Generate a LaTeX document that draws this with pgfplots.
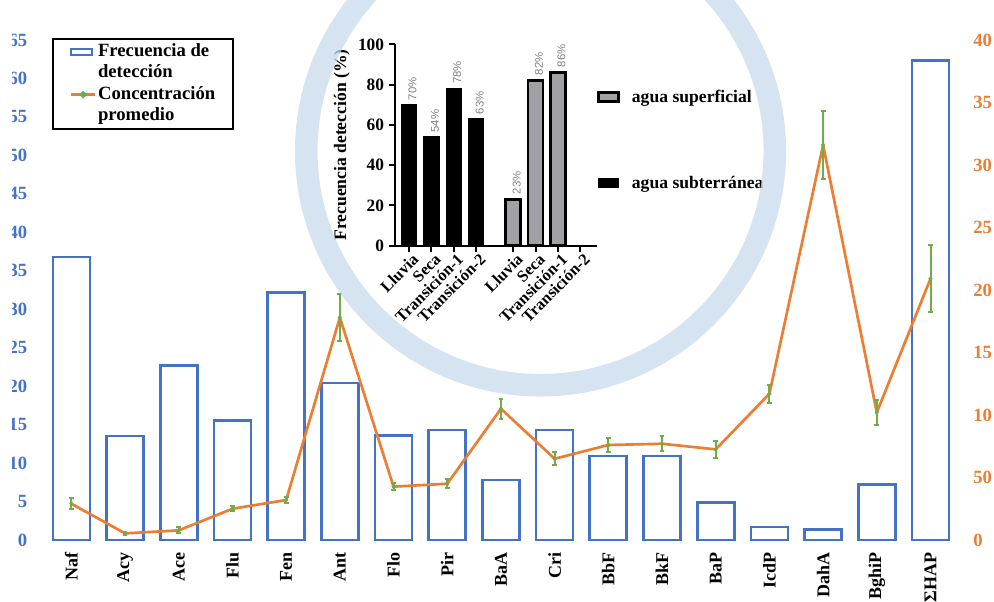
\documentclass[border=0pt]{standalone}
\usepackage{fontspec}
\setmainfont{Liberation Serif}
\newfontfamily\pctfont{Liberation Sans}
\usepackage{pgfplots}
\usepackage{pgfplotstable}
\pgfplotsset{compat=1.18}

\definecolor{cblue}{HTML}{4472C4}
\definecolor{corange}{HTML}{ED7D31}
\definecolor{cgreen}{HTML}{70AD47}
\definecolor{cring}{RGB}{200,218,236}
\definecolor{cgray}{RGB}{160,160,165}
\definecolor{cpct}{RGB}{128,128,128}

\pgfplotstableread{
x f c e
0 36.8 2.9 0.42
1 13.5 0.53 0.1
2 22.7 0.77 0.24
3 15.5 2.5 0.2
4 32.2 3.2 0.25
5 20.4 17.8 1.85
6 13.6 4.27 0.3
7 14.3 4.5 0.35
8 7.8 10.5 0.8
9 14.3 6.5 0.53
10 10.9 7.6 0.53
11 10.9 7.7 0.6
12 4.85 7.25 0.67
13 1.7 11.7 0.73
14 1.4 31.6 2.7
15 7.2 10.2 1.03
16 62.3 20.9 2.7
}\maindata

\pgfplotstableread{
x y
0 70
1 54
2 78
3 63
}\subdata

\pgfplotstableread{
x y
4.65 23
5.65 82
6.65 86
}\supdata

\begin{document}
\begin{tikzpicture}
\useasboundingbox (0,0) rectangle (745.5pt,451.5pt);
\clip (0,0) rectangle (745.5pt,451.5pt);

% main axis: detection frequency (bars)
\begin{axis}[
  at={(33.4pt,46.5pt)}, anchor=south west, scale only axis,
  width=684.6pt, height=375pt,
  xmin=-0.5, xmax=16.5, ymin=0, ymax=65,
  axis line style={draw=none}, major tick length=0pt, tick style={draw=none},
  xtick={0,...,16},
  xticklabels={Naf,Acy,Ace,Flu,Fen,Ant,Flo,Pir,BaA,Cri,BbF,BkF,BaP,IcdP,DahA,BghiP,ΣHAP},
  xticklabel style={rotate=90, anchor=east, inner sep=0pt, font=\bfseries\fontsize{13.5}{16}\selectfont},
  xticklabel shift=9pt,
  ytick={0,5,...,65},
  yticklabel style={anchor=east, inner sep=0pt, text=cblue, font=\bfseries\fontsize{14}{16}\selectfont, xshift=-12.75pt},
  /pgf/number format/assume math mode=true,
  legend style={at={(0.0079,1.0034)}, anchor=north west, draw=black, line width=1.5pt, fill=white,
    inner xsep=13pt, inner ysep=1.5pt, font=\bfseries\fontsize{14}{16}\selectfont,
    nodes={inner sep=0pt, text height=11.5pt, text depth=4.5pt}, cells={anchor=base west},
    row sep=0pt,
    /tikz/every odd column/.style={column sep=1.5pt}},
  clip=false,
]
\addplot[ybar, bar width=27.75pt, draw=cblue, fill=white, line width=2pt,
  legend image code/.code={\draw[cblue, line width=1.5pt, fill=white] (0pt,1.2pt) rectangle (15.75pt,5.8pt);}]
  table[x=x, y=f]{\maindata};
\addlegendentry{Frecuencia de}
\addlegendimage{empty legend}
\addlegendentry{detección}
\addlegendimage{legend image code/.code={\draw[corange, line width=2pt] (0pt,3.5pt) -- (17.5pt,3.5pt);
  \fill[cgreen] (8.75pt,5.4pt) -- (10.6pt,3.5pt) -- (8.75pt,1.6pt) -- (6.9pt,3.5pt) -- cycle;}}
\addlegendentry{Concentración}
\addlegendimage{empty legend}
\addlegendentry{promedio}
\end{axis}

% secondary axis: mean concentration (line)
\begin{axis}[
  at={(33.4pt,46.5pt)}, anchor=south west, scale only axis,
  width=684.6pt, height=375pt,
  xmin=-0.5, xmax=16.5, ymin=0, ymax=40,
  axis x line=none, axis y line*=right,
  axis line style={draw=none}, major tick length=0pt, tick style={draw=none},
  ytick={0,5,...,40},
  yticklabels={0,50,10,15,20,25,30,35,40},
  yticklabel style={anchor=west, inner sep=0pt, text=corange, font=\bfseries\fontsize{14}{16}\selectfont, xshift=11.8pt},
  clip=false,
]
\addplot[corange, line width=2pt, mark=diamond*, mark size=1.8pt,
  mark options={cgreen, fill=cgreen, line width=0.3pt},
  error bars/.cd, y dir=both, y explicit,
  error bar style={cgreen, line width=1.5pt},
  error mark options={cgreen, rotate=90, mark size=1.8pt, line width=1.5pt}]
  table[x=x, y=c, y error=e]{\maindata};
\end{axis}

% inset
\begin{axis}[
  at={(296.25pt,267.2pt)}, anchor=south west, scale only axis,
  width=151.3pt, height=151.05pt,
  xmin=-0.625, xmax=8.38, ymin=0, ymax=100,
  axis x line*=bottom, axis y line*=left, axis line style={line width=1.5pt, -, black},
  tick align=outside, major tick length=4.5pt, tick style={line width=1.5pt, black},
  xtick={0,1,2,3,4.65,5.65,6.65,7.65},
  xticklabels={Lluvia,Seca,Transición-1,Transición-2,Lluvia,Seca,Transición-1,Transición-2},
  xticklabel style={xshift=5pt, yshift=-3.75pt, rotate=45, anchor=east, inner sep=0pt, font=\bfseries\fontsize{12.3}{14}\selectfont},
  ytick={0,20,...,100},
  yticklabel style={anchor=east, inner sep=0pt, xshift=-3.5pt, font=\bfseries\fontsize{13}{15}\selectfont},
  ylabel={Frecuencia detección (\%)},
  ylabel style={at={(axis description cs:-0.263,0.5)}, anchor=center, font=\bfseries\fontsize{13.2}{15}\selectfont},
  /pgf/number format/assume math mode=true,
  legend style={at={(1,0.776)}, anchor=north west, draw=none, fill=none, inner sep=0pt,
    font=\bfseries\fontsize{13.2}{15}\selectfont, nodes={inner sep=0pt}, cells={anchor=west},
    row sep=54pt, /tikz/every odd column/.style={column sep=9.2pt}},
  clip=false,
]
\addlegendimage{legend image code/.code={\draw[fill=cgray, draw=black, line width=2pt] (0pt,-3.2pt) rectangle (15pt,3.2pt);}}
\addlegendentry{agua superficial}
\addlegendimage{legend image code/.code={\draw[fill=black, draw=black, line width=1pt] (0pt,-3.2pt) rectangle (15pt,3.2pt);}}
\addlegendentry{agua subterránea}
\addplot[ybar, forget plot, bar width=11.25pt, fill=black, draw=black, line width=1pt,
  nodes near coords={\pgfmathprintnumber{\pgfplotspointmeta}\%},
  every node near coord/.append style={xshift=2.6pt, yshift=3pt, rotate=90, anchor=west, inner sep=0pt,
    font=\pctfont\fontsize{8.5}{9}\selectfont, text=cpct}]
  table[x=x, y=y]{\subdata};
\addplot[ybar, forget plot, bar width=11.25pt, fill=cgray, draw=black, line width=2pt,
  nodes near coords={\pgfmathprintnumber{\pgfplotspointmeta}\%},
  every node near coord/.append style={xshift=2.6pt, yshift=3pt, rotate=90, anchor=west, inner sep=0pt,
    font=\pctfont\fontsize{8.5}{9}\selectfont, text=cpct}]
  table[x=x, y=y]{\supdata};
\end{axis}

\draw[cring, opacity=0.75, line width=16.9pt] (405.4pt,338.25pt) circle (175.7pt);
\fill[white] (0,0) rectangle (9pt,451.5pt);
\end{tikzpicture}
\end{document}
